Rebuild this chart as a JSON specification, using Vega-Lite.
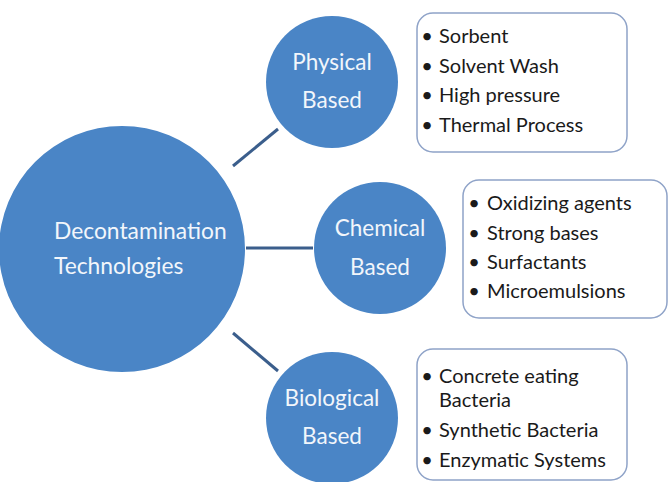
{
  "$schema": "https://vega.github.io/schema/vega-lite/v6.json",
  "width": 668,
  "height": 482,
  "autosize": {"type": "none"},
  "padding": 0,
  "background": "white",
  "config": {"view": {"stroke": null}},
  "datasets": {
    "links": [
      {"x": 233, "y": 166, "x2": 278, "y2": 129},
      {"x": 246, "y": 248, "x2": 313, "y2": 248},
      {"x": 233, "y": 333, "x2": 278, "y2": 371}
    ],
    "hub": [{"name": "Decontamination Technologies", "x": 122, "y": 249}],
    "branches": [
      {"name": "Physical", "x": 332, "y": 82},
      {"name": "Chemical", "x": 380, "y": 248},
      {"name": "Biological", "x": 332, "y": 418}
    ],
    "boxes": [
      {"branch": "Physical", "x": 417, "x2": 627, "y": 13, "y2": 152},
      {"branch": "Chemical", "x": 463, "x2": 667, "y": 180, "y2": 318},
      {"branch": "Biological", "x": 417, "x2": 627, "y": 349, "y2": 480}
    ],
    "circleLabels": [
      {"text": "Decontamination", "x": 54, "y": 232, "align": "left"},
      {"text": "Technologies", "x": 54, "y": 267, "align": "left"},
      {"text": "Physical", "x": 332, "y": 63, "align": "center"},
      {"text": "Based", "x": 332, "y": 101, "align": "center"},
      {"text": "Chemical", "x": 380, "y": 229, "align": "center"},
      {"text": "Based", "x": 380, "y": 268, "align": "center"},
      {"text": "Biological", "x": 332, "y": 399, "align": "center"},
      {"text": "Based", "x": 332, "y": 437, "align": "center"}
    ],
    "items": [
      {"text": "Sorbent", "bx": 427, "x": 439, "y": 37, "bullet": "•"},
      {"text": "Solvent Wash", "bx": 427, "x": 439, "y": 67, "bullet": "•"},
      {"text": "High pressure", "bx": 427, "x": 439, "y": 96, "bullet": "•"},
      {"text": "Thermal Process", "bx": 427, "x": 439, "y": 126, "bullet": "•"},
      {"text": "Oxidizing agents", "bx": 474, "x": 487, "y": 204, "bullet": "•"},
      {"text": "Strong bases", "bx": 474, "x": 487, "y": 234, "bullet": "•"},
      {"text": "Surfactants", "bx": 474, "x": 487, "y": 263, "bullet": "•"},
      {"text": "Microemulsions", "bx": 474, "x": 487, "y": 292, "bullet": "•"},
      {"text": "Concrete eating", "bx": 427, "x": 439, "y": 377, "bullet": "•"},
      {"text": "Bacteria", "bx": 427, "x": 439, "y": 401, "bullet": ""},
      {"text": "Synthetic Bacteria", "bx": 427, "x": 439, "y": 431, "bullet": "•"},
      {"text": "Enzymatic Systems", "bx": 427, "x": 439, "y": 461, "bullet": "•"}
    ]
  },
  "layer": [
    {
      "data": {"name": "links"},
      "mark": {"type": "rule", "stroke": "#3b5e8c", "strokeWidth": 3},
      "encoding": {
        "x": {"field": "x", "type": "quantitative", "scale": {"domain": [0, 668], "nice": false, "zero": false}, "axis": null},
        "y": {"field": "y", "type": "quantitative", "scale": {"domain": [0, 482], "reverse": true, "nice": false, "zero": false}, "axis": null},
        "x2": {"field": "x2"},
        "y2": {"field": "y2"}
      }
    },
    {
      "data": {"name": "hub"},
      "mark": {"type": "point", "shape": "circle", "filled": true, "fill": "#4a85c6", "opacity": 1, "size": 60516, "strokeWidth": 0},
      "encoding": {
        "x": {"field": "x", "type": "quantitative", "scale": {"domain": [0, 668], "nice": false, "zero": false}, "axis": null},
        "y": {"field": "y", "type": "quantitative", "scale": {"domain": [0, 482], "reverse": true, "nice": false, "zero": false}, "axis": null}
      }
    },
    {
      "data": {"name": "branches"},
      "mark": {"type": "point", "shape": "circle", "filled": true, "fill": "#4a85c6", "opacity": 1, "size": 17424, "strokeWidth": 0},
      "encoding": {
        "x": {"field": "x", "type": "quantitative", "scale": {"domain": [0, 668], "nice": false, "zero": false}, "axis": null},
        "y": {"field": "y", "type": "quantitative", "scale": {"domain": [0, 482], "reverse": true, "nice": false, "zero": false}, "axis": null}
      }
    },
    {
      "data": {"name": "boxes"},
      "mark": {"type": "rect", "fill": "white", "stroke": "#8fa3c8", "strokeWidth": 1.5, "cornerRadius": 16},
      "encoding": {
        "x": {"field": "x", "type": "quantitative", "scale": {"domain": [0, 668], "nice": false, "zero": false}, "axis": null},
        "x2": {"field": "x2"},
        "y": {"field": "y", "type": "quantitative", "scale": {"domain": [0, 482], "reverse": true, "nice": false, "zero": false}, "axis": null},
        "y2": {"field": "y2"}
      }
    },
    {
      "data": {"name": "circleLabels"},
      "transform": [{"filter": "datum.align === 'left'"}],
      "mark": {"type": "text", "align": "left", "baseline": "middle", "font": "Lato", "fontSize": 22.8, "color": "#f2f6fb"},
      "encoding": {
        "x": {"field": "x", "type": "quantitative", "scale": {"domain": [0, 668], "nice": false, "zero": false}, "axis": null},
        "y": {"field": "y", "type": "quantitative", "scale": {"domain": [0, 482], "reverse": true, "nice": false, "zero": false}, "axis": null},
        "text": {"field": "text"}
      }
    },
    {
      "data": {"name": "circleLabels"},
      "transform": [{"filter": "datum.align === 'center'"}],
      "mark": {"type": "text", "align": "center", "baseline": "middle", "font": "Lato", "fontSize": 22.5, "color": "#f2f6fb"},
      "encoding": {
        "x": {"field": "x", "type": "quantitative", "scale": {"domain": [0, 668], "nice": false, "zero": false}, "axis": null},
        "y": {"field": "y", "type": "quantitative", "scale": {"domain": [0, 482], "reverse": true, "nice": false, "zero": false}, "axis": null},
        "text": {"field": "text"}
      }
    },
    {
      "data": {"name": "items"},
      "mark": {"type": "text", "align": "center", "baseline": "middle", "font": "Lato", "fontSize": 20, "color": "#1a1a1a"},
      "encoding": {
        "x": {"field": "bx", "type": "quantitative", "scale": {"domain": [0, 668], "nice": false, "zero": false}, "axis": null},
        "y": {"field": "y", "type": "quantitative", "scale": {"domain": [0, 482], "reverse": true, "nice": false, "zero": false}, "axis": null},
        "text": {"field": "bullet"}
      }
    },
    {
      "data": {"name": "items"},
      "mark": {"type": "text", "align": "left", "baseline": "middle", "font": "Lato", "fontSize": 20, "color": "#1a1a1a"},
      "encoding": {
        "x": {"field": "x", "type": "quantitative", "scale": {"domain": [0, 668], "nice": false, "zero": false}, "axis": null},
        "y": {"field": "y", "type": "quantitative", "scale": {"domain": [0, 482], "reverse": true, "nice": false, "zero": false}, "axis": null},
        "text": {"field": "text"}
      }
    }
  ]
}
